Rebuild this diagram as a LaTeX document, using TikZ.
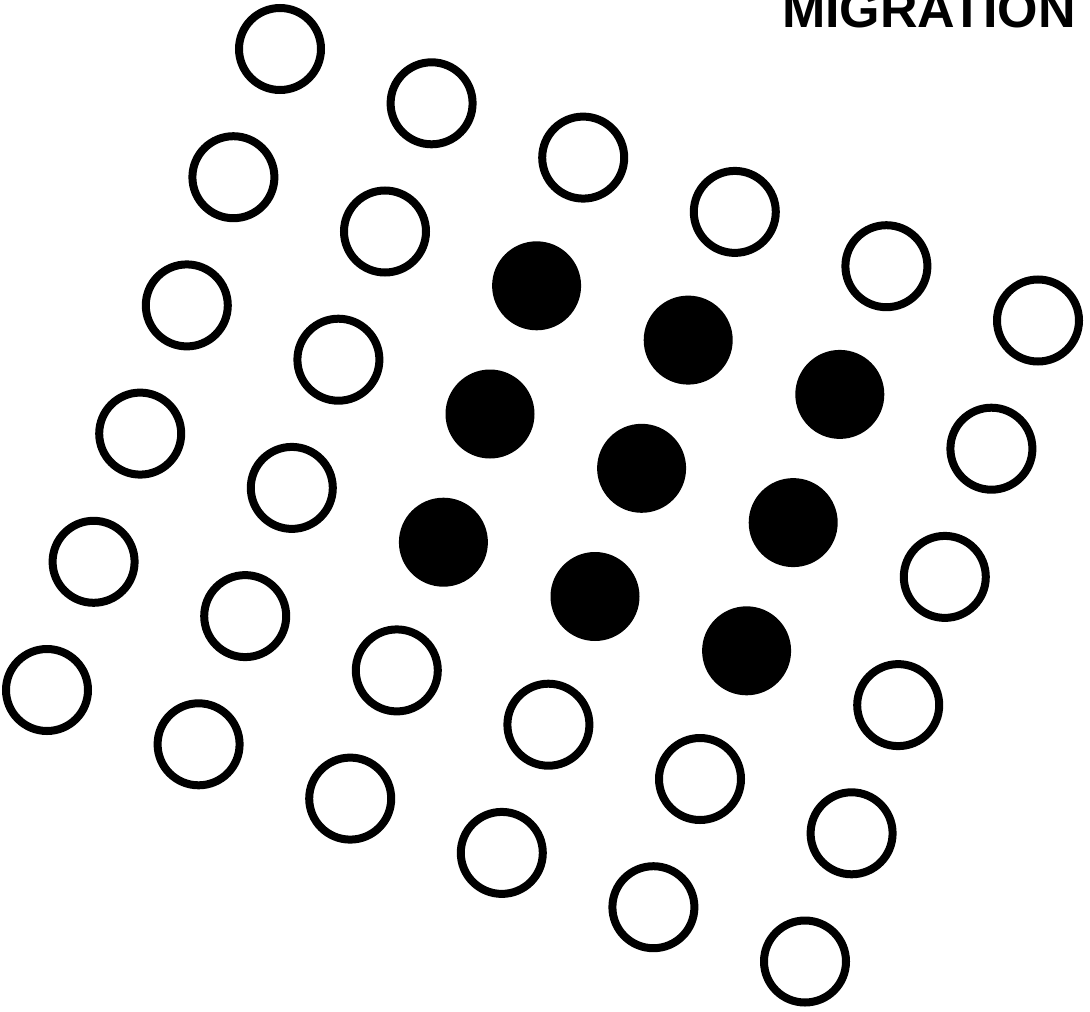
\documentclass[tikz,border=0pt]{standalone}
\usepackage{fontspec}
\setmainfont{Liberation Sans}
\begin{document}
\begin{tikzpicture}[x=1pt,y=-1pt,
  opendot/.style={circle,draw=black,line width=8pt,minimum size=82pt,inner sep=0pt,fill=white},
  filldot/.style={circle,fill=black,minimum size=89pt,inner sep=0pt}]
\useasboundingbox (0,0) rectangle (1090,1012);
\clip (0,0) rectangle (1090,1012);
\node[anchor=base east,inner sep=0pt,font=\fontsize{52}{52}\selectfont\bfseries] (title) at (1076,27) {MIGRATION};
\foreach \i in {0,...,5}{
  \foreach \j in {0,...,5}{
    \pgfmathsetmacro{\cx}{280+151.6*\j-46.6*\i}
    \pgfmathsetmacro{\cy}{49+54.3*\j+128.2*\i}
    \pgfmathtruncatemacro{\isfill}{(\i>=1 && \i<=3 && \j>=2 && \j<=4) ? 1 : 0}
    \ifnum\isfill=1
      \node[filldot] (c\i\j) at (\cx,\cy) {};
    \else
      \node[opendot] (c\i\j) at (\cx,\cy) {};
    \fi
  }
}
\end{tikzpicture}
\end{document}
